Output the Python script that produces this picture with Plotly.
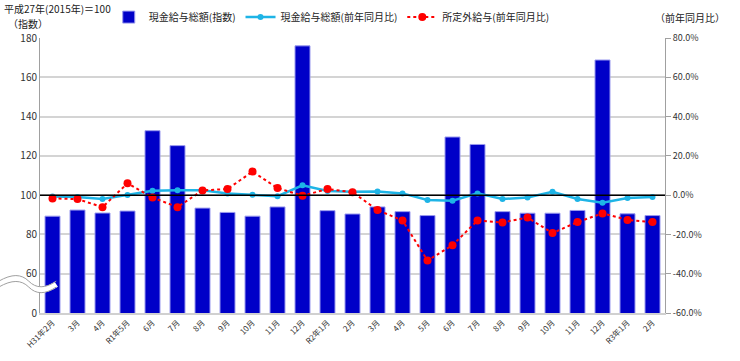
import plotly.graph_objects as go

labels = ["H31年2月", "3月", "4月", "R1年5月", "6月", "7月", "8月", "9月", "10月", "11月", "12月",
          "R2年1月", "2月", "3月", "4月", "5月", "6月", "7月", "8月", "9月", "10月", "11月", "12月",
          "R3年1月", "2月"]
index_vals = [89.3, 92.4, 90.9, 91.9, 132.8, 125.2, 93.4, 91.2, 89.3, 94.0, 176.0,
              92.1, 90.4, 94.0, 91.6, 89.6, 129.6, 125.8, 91.6, 90.8, 90.8, 92.2, 168.8,
              90.5, 89.6]
cash_yoy = [-0.7, -1.0, -2.0, 0.1, 2.2, 2.5, 2.5, 0.8, 0.2, -0.5, 5.0,
            2.1, 1.7, 1.8, 0.9, -2.5, -2.8, 0.9, -2.0, -1.2, 1.7, -2.0, -3.9,
            -1.5, -1.0]
overtime_yoy = [-1.7, -2.0, -6.1, 6.0, -1.2, -6.1, 2.4, 3.1, 12.0, 3.6, -0.3,
                3.1, 1.5, -7.6, -12.9, -33.3, -25.5, -12.9, -13.9, -11.4, -19.3, -13.7, -9.3,
                -12.6, -13.7]
left_ticks = [40, 60, 80, 100, 120, 140, 160, 180]
left_ticktext = ["0", "60", "80", "100", "120", "140", "160", "180"]
right_ticks = [-60, -40, -20, 0, 20, 40, 60, 80]

x = list(range(len(labels)))
FONT = "Noto Sans CJK JP"

fig = go.Figure()
fig.add_trace(go.Bar(
    x=x, y=index_vals, name="現金給与総額(指数)",
    marker=dict(color="#0000C8", line=dict(color="#9999EE", width=1)),
    width=0.6, base=0, yaxis="y"))
fig.add_trace(go.Scatter(
    x=x, y=cash_yoy, name="現金給与総額(前年同月比)", mode="lines+markers",
    line=dict(color="#1EB4E6", width=2.5), marker=dict(size=6, color="#1EB4E6"),
    yaxis="y2"))
fig.add_trace(go.Scatter(
    x=x, y=overtime_yoy, name="所定外給与(前年同月比)", mode="lines+markers",
    line=dict(color="#FF0000", width=2, dash="dot"), marker=dict(size=8, color="#FF0000"),
    yaxis="y2"))

fig.update_layout(
    width=740, height=361,
    margin=dict(l=40, r=75, t=38, b=48, autoexpand=False),
    paper_bgcolor="white", plot_bgcolor="white",
    font=dict(family=FONT, size=10, color="#333"),
    showlegend=True,
    legend=dict(orientation="h", x=0.11, y=1.076, xanchor="left", yanchor="middle",
                font=dict(size=10, color="#222"), itemwidth=30, traceorder="normal",
                bgcolor="rgba(0,0,0,0)"),
    xaxis=dict(tickmode="array", tickvals=x, ticktext=labels, tickangle=-45,
               range=[-0.5, len(labels) - 0.5], showgrid=False,
               showline=True, linecolor="#D0D0D0", linewidth=2,
               tickfont=dict(size=8, color="#333"), ticks=""),
    yaxis=dict(range=[40, 180], tickmode="array", tickvals=left_ticks, ticktext=left_ticktext,
               showgrid=True, gridcolor="#D4D4D4", gridwidth=1.5,
               showline=True, linecolor="#A0A0A0", linewidth=1, zeroline=False,
               tickfont=dict(size=10, color="#333"), ticks=""),
    yaxis2=dict(range=[-60, 80], tickmode="array", tickvals=right_ticks,
                ticktext=[f"{v:.1f}%" for v in right_ticks],
                overlaying="y", side="right", showgrid=False, zeroline=False,
                showline=True, linecolor="#A0A0A0", linewidth=1,
                ticks="outside", ticklen=5, tickcolor="#A0A0A0",
                tickfont=dict(size=9, color="#333")),
    shapes=[
        dict(type="line", xref="paper", yref="y", x0=0, x1=1, y0=100, y1=100,
             line=dict(color="black", width=1.5), layer="above"),
        dict(type="path", xref="paper", yref="y", layer="above",
             path="M -0.066,54.7 C -0.045,58.5 -0.03,58.5 -0.018,54.7 C -0.006,50.9 0.008,50.9 0.026,54.7",
             line=dict(color="white", width=6)),
        dict(type="path", xref="paper", yref="y", layer="above",
             path="M -0.066,56.2 C -0.045,60.0 -0.03,60.0 -0.018,56.2 C -0.006,52.4 0.008,52.4 0.026,56.2",
             line=dict(color="#A0A0A0", width=1)),
        dict(type="path", xref="paper", yref="y", layer="above",
             path="M -0.066,53.2 C -0.045,57.0 -0.03,57.0 -0.018,53.2 C -0.006,49.4 0.008,49.4 0.026,53.2",
             line=dict(color="#A0A0A0", width=1)),
    ],
    annotations=[
        dict(text="平成27年(2015年)＝100", xref="paper", yref="paper", x=-0.061, y=1.107,
             xanchor="left", yanchor="middle", showarrow=False, font=dict(size=10, color="#222")),
        dict(text="（指数）", xref="paper", yref="paper", x=-0.054, y=1.0545,
             xanchor="left", yanchor="middle", showarrow=False, font=dict(size=10, color="#222")),
        dict(text="（前年同月比）", xref="paper", yref="paper", x=1.04, y=1.076,
             xanchor="center", yanchor="middle", showarrow=False, font=dict(size=10, color="#222")),
    ],
)

fig.write_html("out.html", config={"displayModeBar": False},
               post_script="document.body.style.margin='0px';document.body.style.padding='0px';")
